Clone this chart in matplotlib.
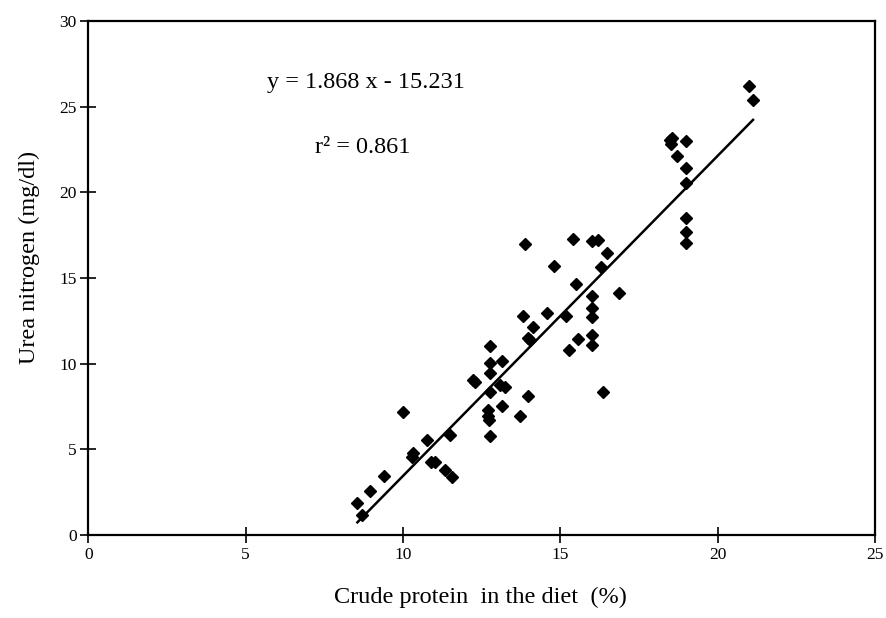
import numpy as np
import matplotlib.pyplot as plt

# crude protein in diet (%) vs urea nitrogen (mg/dl)
protein = [12.76, 12.76, 13.13, 12.76, 12.23, 12.28, 12.76, 13.08, 13.23, 13.13,
           12.70, 12.70, 12.74, 12.76, 9.99, 10.75, 11.49, 10.32, 10.27, 10.90,
           11.00, 11.33, 11.57, 9.39, 8.95, 8.55, 8.68,
           13.89, 15.39, 15.99, 16.20, 16.47, 14.79, 16.28, 15.51, 16.87, 16.00,
           16.00, 16.00, 13.80, 14.59, 15.17, 14.12, 13.98, 14.03, 15.57, 16.00,
           16.00, 15.28, 13.96, 16.36, 13.71,
           21.00, 21.12, 18.48, 18.55, 18.50, 18.99, 18.72, 18.99, 18.99, 18.99,
           18.99, 18.99]
urea = [11.03, 10.02, 10.17, 9.47, 9.04, 8.94, 8.36, 8.75, 8.62, 7.53,
        7.29, 6.94, 6.71, 5.78, 7.19, 5.54, 5.83, 4.77, 4.57, 4.28,
        4.28, 3.79, 3.40, 3.46, 2.58, 1.85, 1.17,
        16.98, 17.25, 17.17, 17.21, 16.47, 15.69, 15.62, 14.64, 14.10, 13.94,
        13.22, 12.74, 12.78, 12.93, 12.75, 12.12, 11.48, 11.38, 11.45, 11.65,
        11.07, 10.79, 8.13, 8.33, 6.96,
        26.20, 25.38, 23.05, 23.14, 22.81, 23.00, 22.11, 21.39, 20.52, 18.48,
        17.70, 17.06]

slope, intercept = 1.868, -15.231
r2 = 0.861
fit_range = [8.55, 21.12]

plt.rcParams['font.family'] = ['Liberation Serif', 'DejaVu Serif']

fig = plt.figure(figsize=(8.86, 6.18), dpi=100)
ax = fig.add_axes([0.0997, 0.1343, 0.888, 0.832])

ax.plot(protein, urea, 'D', color='black', markersize=6, linestyle='none')
xf = np.array(fit_range)
ax.plot(xf, slope * xf + intercept, color='black', linewidth=1.8)

ax.set_xlim(0, 25)
ax.set_ylim(0, 30)
ax.set_xticks(range(0, 26, 5))
ax.set_yticks(range(0, 31, 5))
ax.tick_params(direction='inout', length=11, width=1.2, labelsize=12.5, pad=3,
               top=False, right=False)
for sp in ax.spines.values():
    sp.set_linewidth(1.6)

ax.set_xlabel('Crude protein  in the diet  (%)', fontsize=17.5)
ax.xaxis.set_label_coords(0.498, -0.1)
ax.set_ylabel('Urea nitrogen (mg/dl)', fontsize=17.5)
ax.yaxis.set_label_coords(-0.062, 0.54)

ax.text(5.68, 26.1, 'y = %.3f x - %.3f' % (slope, -intercept), fontsize=17.5)
ax.text(7.2, 22.3, 'r² = %.3f' % r2, fontsize=17.5)

fig.savefig('out.png', dpi=100)
